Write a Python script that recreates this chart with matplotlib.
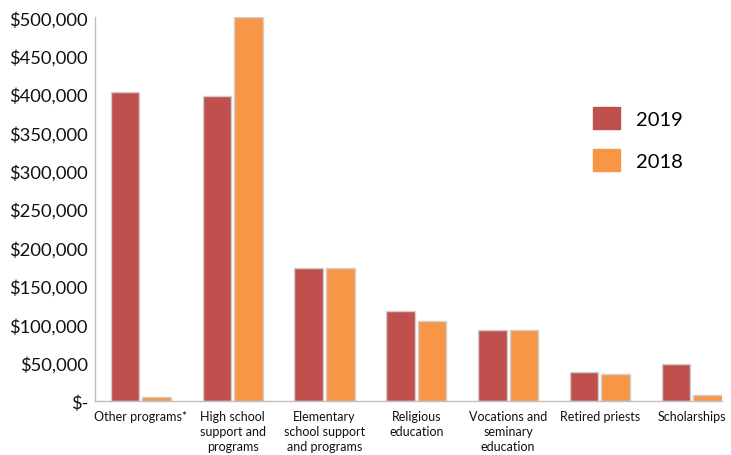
import matplotlib
matplotlib.use("Agg")
import matplotlib.pyplot as plt
import matplotlib.patches as patches
import numpy as np

plt.rcParams["font.family"] = ["Lato", "DejaVu Sans"]

# data
categories = [
    "Other programs*",
    "High school\nsupport and\nprograms",
    "Elementary\nschool support\nand programs",
    "Religious\neducation",
    "Vocations and\nseminary\neducation",
    "Retired priests",
    "Scholarships",
]
values_2019 = [403000, 398000, 173000, 117500, 92500, 38000, 48000]
values_2018 = [5000, 500000, 173000, 104000, 92000, 35500, 8000]
y_ticks = list(range(0, 500001, 50000))

RED = "#C0504D"
ORANGE = "#F79646"
EDGE = "#D0D0D0"

fig = plt.figure(figsize=(7.31, 4.56), dpi=100)
ax = fig.add_axes([95 / 731, 1 - 402 / 456, (722 - 95) / 731, (402 - 18.3) / 456])

x = np.arange(len(categories))
w = 0.31
off = 0.172
ax.bar(x - off, values_2019, w, color=RED, edgecolor=EDGE, linewidth=1.0)
ax.bar(x + off, values_2018, w, color=ORANGE, edgecolor=EDGE, linewidth=1.0)

ax.set_xlim(-0.5, 6.33)
ax.set_ylim(0, 500000)
ax.set_yticks(y_ticks)
ax.set_yticklabels(["$-" if v == 0 else f"${v:,}" for v in y_ticks],
                   fontsize=13.2, color="#111111")
ax.set_xticks(x)
ax.set_xticklabels(categories, fontsize=9, color="#111111", linespacing=1.3)
ax.tick_params(axis="y", length=0, pad=5)
ax.tick_params(axis="x", length=0, pad=6.5)

for s in ["top", "right"]:
    ax.spines[s].set_visible(False)
for s in ["left", "bottom"]:
    ax.spines[s].set_color("#BFBFBF")
    ax.spines[s].set_linewidth(1.0)

handles = [patches.Patch(color=RED, label="2019"),
           patches.Patch(color=ORANGE, label="2018")]
fig.legend(handles=handles, loc="upper left",
           bbox_to_anchor=(592.7 / 731, 1 - 108 / 456),
           frameon=False, fontsize=14.5, handlelength=1.34, handleheight=1.34,
           handletextpad=0.8, labelspacing=0.95, borderpad=0, borderaxespad=0)

fig.savefig("out.png", dpi=100)
